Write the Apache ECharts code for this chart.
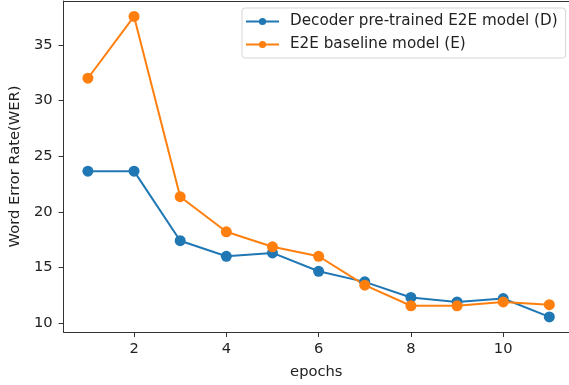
<!DOCTYPE html>
<html><head><meta charset="utf-8">
<script src="https://cdn.jsdelivr.net/npm/echarts@6/dist/echarts.min.js"></script>
<style>html,body{margin:0;padding:0;background:#fff}#c{width:569px;height:385px}</style>
</head><body><div id="c"></div>
<script>
const epochs = [1,2,3,4,5,6,7,8,9,10,11];
const decoderPretrained = [23.65,23.65,17.4,16.0,16.3,14.65,13.7,12.3,11.9,12.2,10.55];
const e2eBaseline = [32.0,37.55,21.35,18.2,16.85,16.0,13.4,11.55,11.55,11.9,11.65];
const xTicks = [2,4,6,8,10];
const yTicks = [10,15,20,25,30,35];
const seriesNames = ['Decoder pre-trained E2E model (D)','E2E baseline model (E)'];

const font = 'DejaVu Sans';
const fs = 14.7;
const chart = echarts.init(document.getElementById('c'));
function pairs(v){ return epochs.map((e,i)=>[e,v[i]]); }
chart.setOption({
  animation:false,
  textStyle:{fontFamily:font},
  grid:{left:62,top:1,right:0,bottom:52},
  legend:{
    left:242, top:8, orient:'vertical',
    itemWidth:33, itemHeight:9, itemGap:8,
    padding:[6,8,6,3],
    borderColor:'#d6d6d6', borderWidth:1, borderRadius:3,
    textStyle:{fontFamily:font,fontSize:15.2,color:'#222',lineHeight:14,padding:[0,0,0,6]},
    data:seriesNames
  },
  xAxis:[{
    type:'value', min:0.473, max:11.426,
    name:'epochs', nameLocation:'middle', nameGap:33,
    nameTextStyle:{fontFamily:font,fontSize:fs,color:'#222'},
    splitLine:{show:false},
    axisLine:{show:true,onZero:false,lineStyle:{color:'#333',width:1}},
    axisTick:{show:true,length:5,customValues:xTicks,lineStyle:{color:'#333'}},
    axisLabel:{customValues:xTicks,fontFamily:font,fontSize:fs,color:'#222',margin:10}
  },{
    type:'value', min:0.473, max:11.426, position:'top',
    splitLine:{show:false},
    axisLine:{show:true,onZero:false,lineStyle:{color:'#333',width:1}},
    axisTick:{show:false}, axisLabel:{show:false}
  }],
  yAxis:{
    type:'value', min:9.194, max:38.94,
    name:'Word Error Rate(WER)', nameLocation:'middle', nameGap:39, nameRotate:90,
    nameTextStyle:{fontFamily:font,fontSize:fs,color:'#222'},
    splitLine:{show:false},
    axisLine:{show:true,onZero:false,lineStyle:{color:'#333',width:1}},
    axisTick:{show:true,length:5,customValues:yTicks,lineStyle:{color:'#333'}},
    axisLabel:{customValues:yTicks,fontFamily:font,fontSize:fs,color:'#222',margin:11}
  },
  series:[
    {name:seriesNames[0],type:'line',data:pairs(decoderPretrained),symbol:'circle',symbolSize:11,
     color:'#1f77b4',lineStyle:{width:2,color:'#1f77b4'},itemStyle:{color:'#1f77b4'}},
    {name:seriesNames[1],type:'line',data:pairs(e2eBaseline),symbol:'circle',symbolSize:11,
     color:'#ff7f0e',lineStyle:{width:2,color:'#ff7f0e'},itemStyle:{color:'#ff7f0e'}}
  ]
});
</script></body></html>
